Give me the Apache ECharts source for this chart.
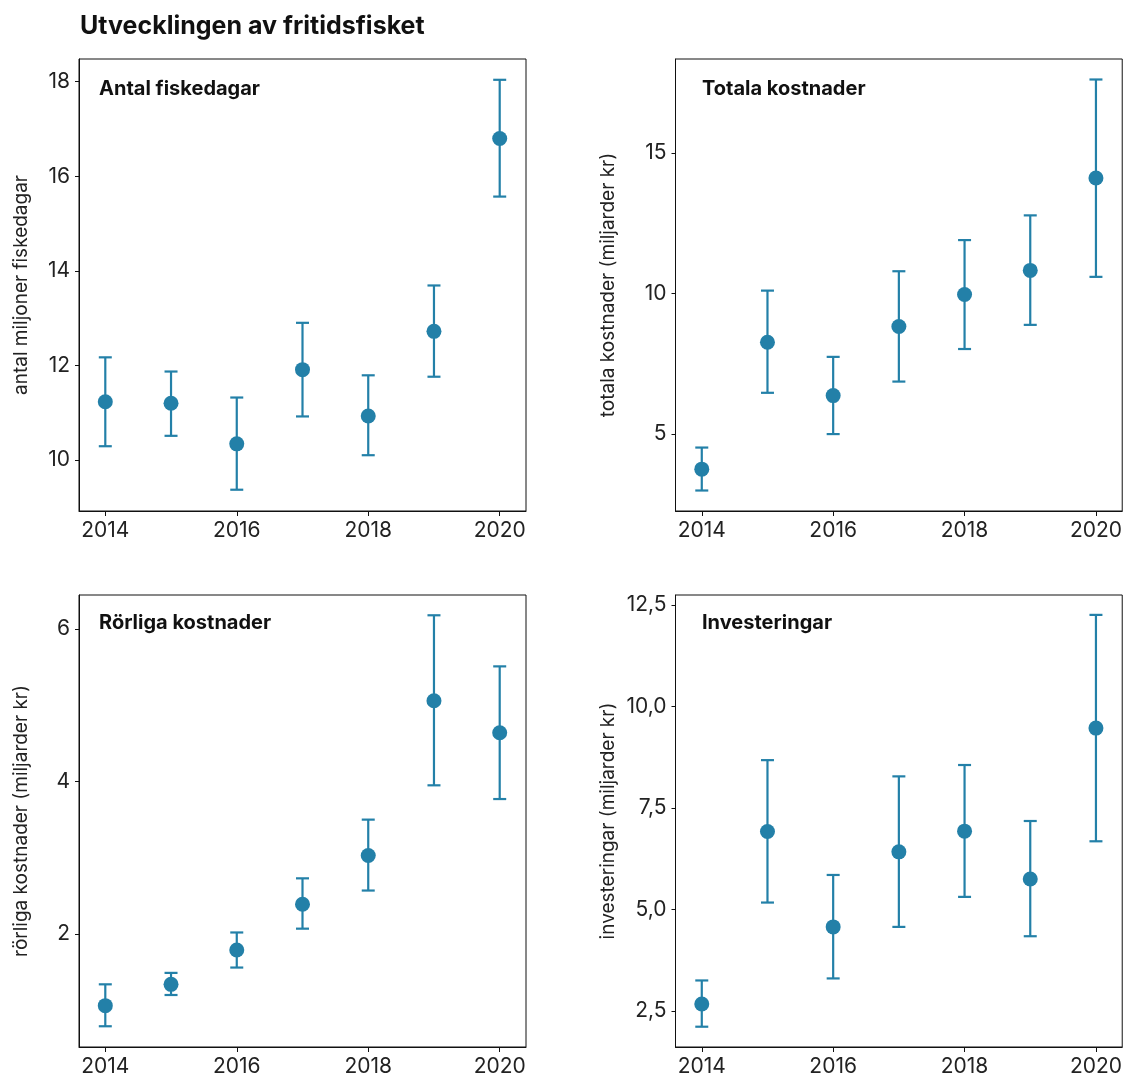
<!DOCTYPE html>
<html>
<head>
<meta charset="utf-8">
<script src="https://cdn.jsdelivr.net/npm/echarts@6/dist/echarts.min.js"></script>
<style>
  html, body { margin: 0; padding: 0; background: #fff; }
  #chart { width: 1125px; height: 1077px; }
</style>
</head>
<body>
<div id="chart"></div>
<script>
// Survey years
const years = [2014, 2015, 2016, 2017, 2018, 2019, 2020];

// Antal fiskedagar (miljoner): estimate, lower and upper bound
const dagarEst = [11.23, 11.20, 10.34, 11.91, 10.93, 12.72, 16.80];
const dagarLow = [10.29, 10.51, 9.37, 10.92, 10.10, 11.76, 15.57];
const dagarHigh = [12.17, 11.87, 11.32, 12.90, 11.79, 13.69, 18.04];

// Totala kostnader (miljarder kr)
const totalEst = [3.74, 8.26, 6.36, 8.82, 9.96, 10.82, 14.11];
const totalLow = [2.98, 6.46, 4.99, 6.86, 8.02, 8.88, 10.59];
const totalHigh = [4.51, 10.10, 7.74, 10.79, 11.90, 12.78, 17.62];

// Rörliga kostnader (miljarder kr)
const rorligaEst = [1.06, 1.34, 1.79, 2.39, 3.03, 5.06, 4.64];
const rorligaLow = [0.79, 1.20, 1.56, 2.07, 2.57, 3.95, 3.77];
const rorligaHigh = [1.34, 1.49, 2.02, 2.73, 3.50, 6.18, 5.51];

// Investeringar (miljarder kr)
const invEst = [2.67, 6.92, 4.57, 6.42, 6.93, 5.75, 9.47];
const invLow = [2.11, 5.17, 3.30, 4.57, 5.31, 4.34, 6.68];
const invHigh = [3.25, 8.68, 5.85, 8.28, 8.56, 7.18, 12.26];

// Tick labels
const xTicks = [2014, 2016, 2018, 2020];
const dagarTicks = [10, 12, 14, 16, 18];
const totalTicks = [5, 10, 15];
const rorligaTicks = [2, 4, 6];
const invTicks = [2.5, 5, 7.5, 10, 12.5];

const COLOR = '#2380a8';
const TEXT = '#222';
const FONT = 'Inter, "Noto Sans", sans-serif';

const panels = [
  { title: 'Antal fiskedagar', yName: 'antal miljoner fiskedagar', est: dagarEst, low: dagarLow, high: dagarHigh,
    ticks: dagarTicks, yMin: 8.92, yMax: 18.48, fmt: v => String(v),
    grid: { left: 79, top: 59, width: 447, height: 452 }, titlePos: [94, 74], nameGap: 48 },
  { title: 'Totala kostnader', yName: 'totala kostnader (miljarder kr)', est: totalEst, low: totalLow, high: totalHigh,
    ticks: totalTicks, yMin: 2.25, yMax: 18.35, fmt: v => String(v),
    grid: { left: 675.5, top: 59, width: 447.5, height: 452 }, titlePos: [697, 74], nameGap: 58 },
  { title: 'Rörliga kostnader', yName: 'rörliga kostnader (miljarder kr)', est: rorligaEst, low: rorligaLow, high: rorligaHigh,
    ticks: rorligaTicks, yMin: 0.518, yMax: 6.446, fmt: v => String(v),
    grid: { left: 79, top: 595, width: 447, height: 452 }, titlePos: [94, 608], nameGap: 48 },
  { title: 'Investeringar', yName: 'investeringar (miljarder kr)', est: invEst, low: invLow, high: invHigh,
    ticks: invTicks, yMin: 1.61, yMax: 12.75, fmt: v => v.toFixed(1).replace('.', ','),
    grid: { left: 675.5, top: 595, width: 447.5, height: 452 }, titlePos: [697, 608], nameGap: 58 }
];

const grids = [], xAxes = [], yAxes = [], series = [], titles = [];

titles.push({
  text: 'Utvecklingen av fritidsfisket',
  left: 75, top: 9,
  textStyle: { fontFamily: FONT, fontSize: 25, fontWeight: 700, color: '#111' }
});

panels.forEach((p, i) => {
  grids.push(Object.assign({ show: true, borderColor: '#111', borderWidth: 1, backgroundColor: 'transparent' }, p.grid));
  titles.push({
    text: p.title,
    left: p.titlePos[0], top: p.titlePos[1],
    textStyle: { fontFamily: FONT, fontSize: 20, fontWeight: 700, color: '#111' }
  });
  xAxes.push({
    type: 'value', gridIndex: i, min: 2013.6, max: 2020.4,
    splitLine: { show: false },
    axisLine: { show: true, lineStyle: { color: '#111', width: 1 } },
    axisTick: { show: true, length: 5, customValues: xTicks, lineStyle: { color: '#111' } },
    axisLabel: { customValues: xTicks, formatter: v => String(v), fontFamily: FONT, fontSize: 21, color: TEXT, margin: 9 }
  });
  yAxes.push({
    type: 'value', gridIndex: i, min: p.yMin, max: p.yMax,
    name: p.yName, nameLocation: 'middle', nameGap: p.nameGap, nameRotate: 90,
    nameTextStyle: { fontFamily: FONT, fontSize: 19, color: TEXT },
    splitLine: { show: false },
    axisLine: { show: true, lineStyle: { color: '#111', width: 1 } },
    axisTick: { show: true, length: 4, customValues: p.ticks, lineStyle: { color: '#111' } },
    axisLabel: { customValues: p.ticks, formatter: p.fmt, fontFamily: FONT, fontSize: 21, color: TEXT, margin: 9 }
  });

  // Error bars (confidence interval) with caps
  series.push({
    type: 'custom', xAxisIndex: i, yAxisIndex: i,
    data: years.map((y, k) => [y, p.low[k], p.high[k]]),
    encode: { x: 0, y: [1, 2] },
    renderItem: (params, api) => {
      const x = api.value(0);
      const lo = api.coord([x, api.value(1)]);
      const hi = api.coord([x, api.value(2)]);
      const cap = 6.5;
      const style = { stroke: COLOR, lineWidth: 2.2, fill: null };
      return {
        type: 'group',
        children: [
          { type: 'line', shape: { x1: lo[0], y1: lo[1], x2: hi[0], y2: hi[1] }, style },
          { type: 'line', shape: { x1: hi[0] - cap, y1: hi[1], x2: hi[0] + cap, y2: hi[1] }, style },
          { type: 'line', shape: { x1: lo[0] - cap, y1: lo[1], x2: lo[0] + cap, y2: lo[1] }, style }
        ]
      };
    },
    z: 2
  });

  // Point estimates
  series.push({
    type: 'scatter', xAxisIndex: i, yAxisIndex: i,
    data: years.map((y, k) => [y, p.est[k]]),
    symbol: 'circle', symbolSize: 15,
    itemStyle: { color: COLOR, opacity: 1 },
    z: 3
  });
});

const chart = echarts.init(document.getElementById('chart'), null, { renderer: 'canvas' });
chart.setOption({
  animation: false,
  backgroundColor: '#fff',
  title: titles,
  grid: grids,
  xAxis: xAxes,
  yAxis: yAxes,
  series: series
});
</script>
</body>
</html>
